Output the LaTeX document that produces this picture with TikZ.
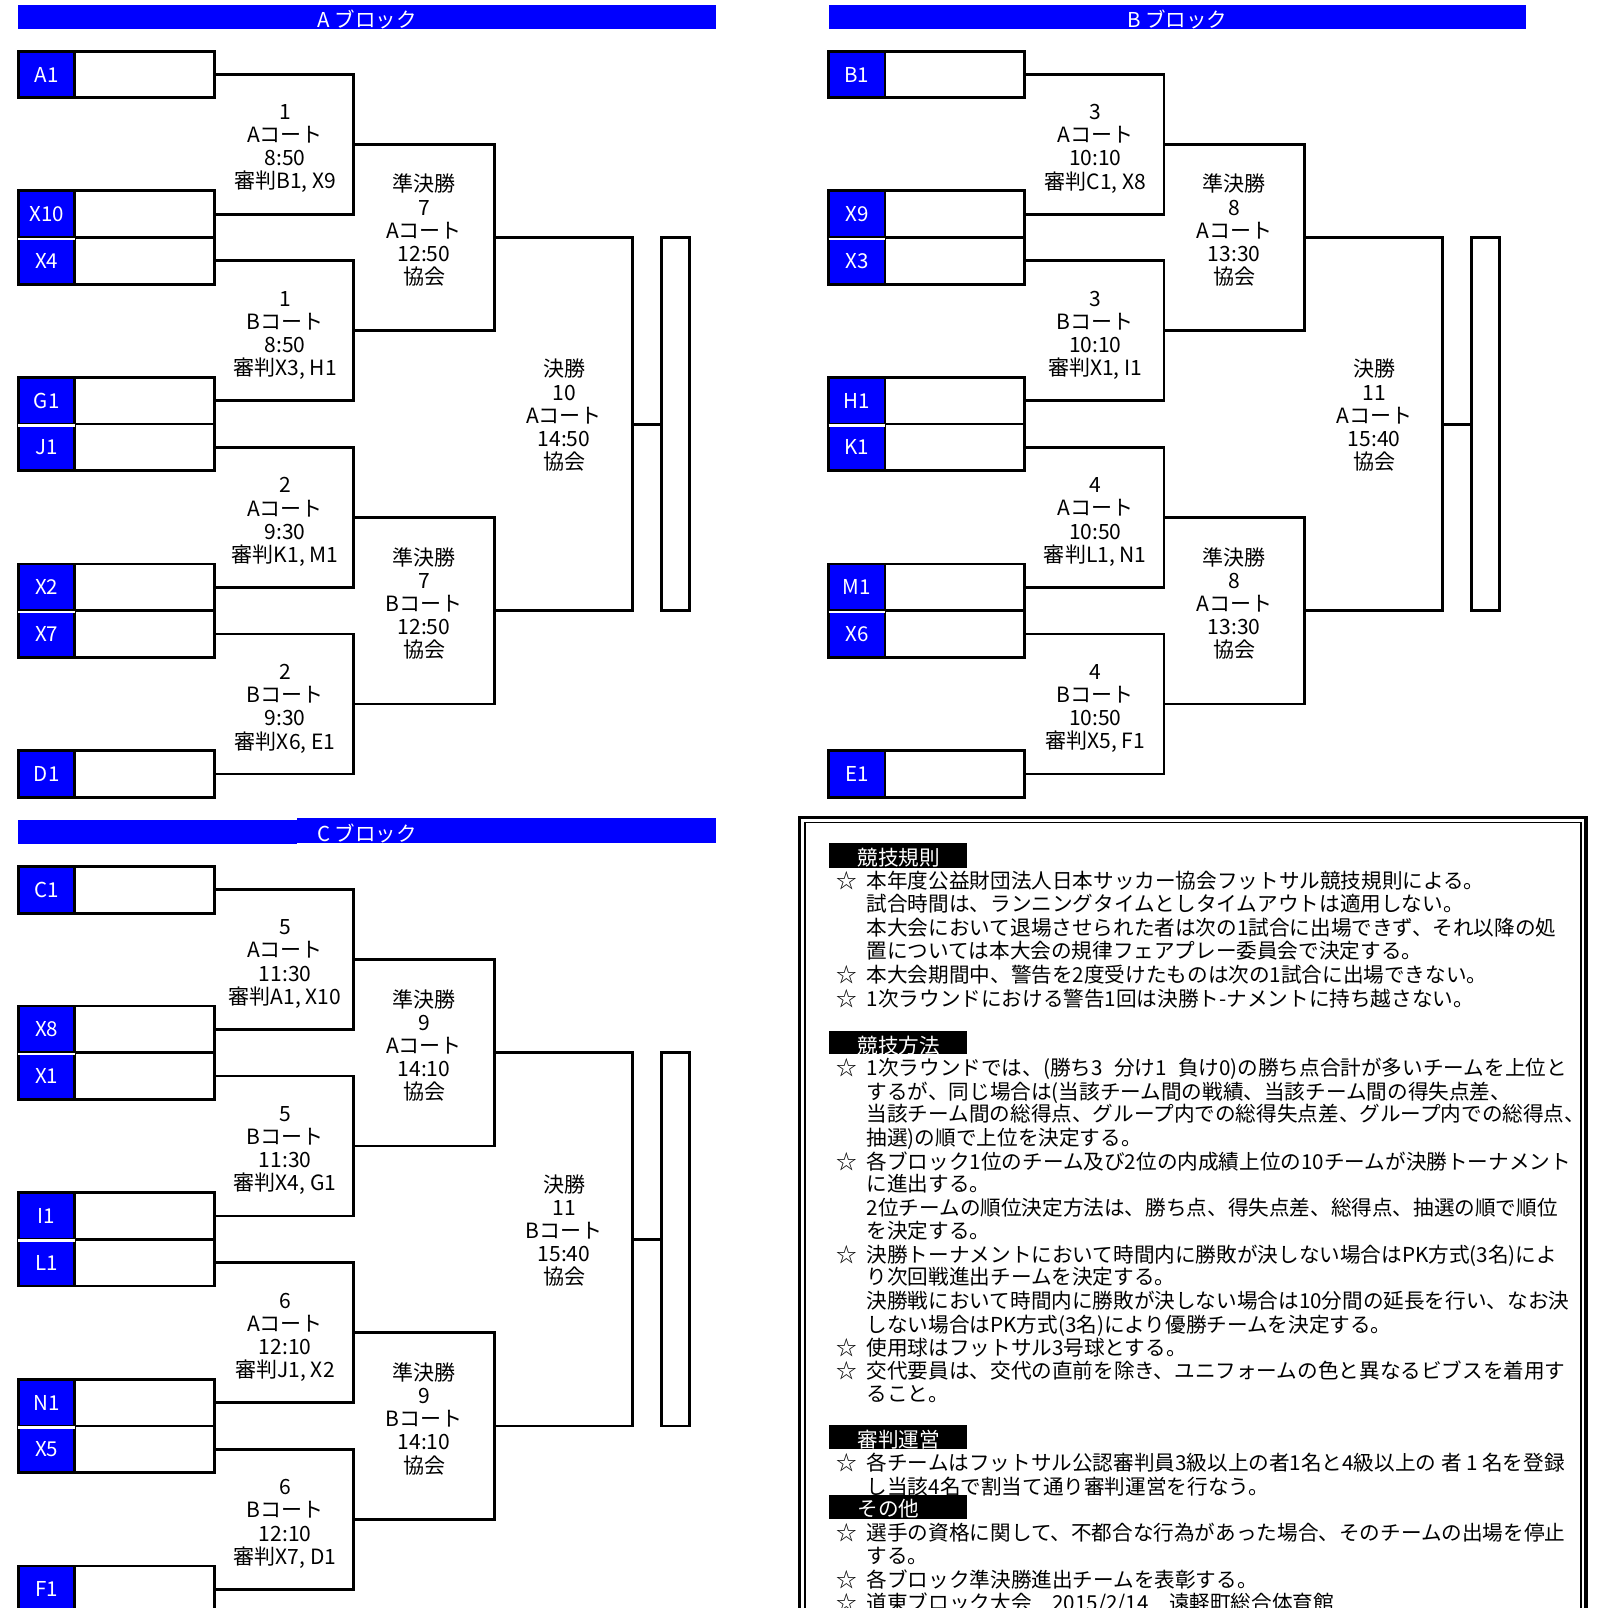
\documentclass[tikz,border=0pt]{standalone}
\usepackage{fontspec}
\setmainfont{Noto Sans CJK JP}

\definecolor{hdrblue}{RGB}{0,0,255}
\newcommand{\tagfont}{\fontsize{20}{22}\selectfont}
\newcommand{\gamefont}{\fontsize{20.5}{22.6}\selectfont}
\newcommand{\rulefont}{\fontsize{20.1}{23}\selectfont}
\newcommand{\starmark}{\makebox[30pt][l]{☆}}
\newcommand{\gap}{\hspace{0.55em}}

\tikzset{
  line/.style={line width=2.8pt},
  teambox/.style={draw, line width=2.8pt, fill=white, minimum width=191pt, minimum height=45.5pt, inner sep=0pt},
  teamtag/.style={draw, line width=2.8pt, fill=hdrblue, text=white, font=\tagfont, minimum width=55pt, minimum height=45.5pt, inner sep=0pt},
  winbox/.style={draw, line width=2.8pt, minimum width=27pt, minimum height=363.9pt, inner sep=0pt},
  gamelbl/.style={align=center, font=\gamefont, inner sep=0pt},
  hdrtext/.style={text=white, font=\tagfont, inner sep=0pt},
  sectext/.style={anchor=base west, text=white, font=\rulefont, inner sep=0pt},
  ruleline/.style={anchor=base west, font=\rulefont, inner sep=0pt},
}

% one block of the tournament: prefix, teams, 4 games, 2 semis, final
\newcommand{\drawblock}[9]{%
  \foreach \tm [count=\i] in {#2} {
    \pgfmathsetmacro\ty{{72.75,208.75,254.25,390.75,436.25,572.75,618.25,754.75}[\i-1]}
    \node[teambox] (#1t\i) at (113.5,\ty) {};
    \node[teamtag, anchor=west] (#1g\i) at (#1t\i.west) {\tm};
  }
  \foreach \j in {2,4,6}
    \draw[white, line width=2.6pt] ([xshift=1.4pt]#1g\j.south west) -- ([xshift=-1.4pt]#1g\j.south east);
  \coordinate (#1m1) at (345,140.75);
  \coordinate (#1m2) at (345,322.5);
  \coordinate (#1m3) at (345,504.5);
  \coordinate (#1m4) at (345,686.5);
  \coordinate (#1s1) at (482,231.6);
  \coordinate (#1s2) at (482,595.5);
  \coordinate (#1f) at (617,413.6);
  \node[winbox] (#1w) at (658.5,413.6) {};
  \draw[line] (#1t1.east) -| (#1m1) |- (#1t2.east);
  \draw[line] (#1t3.east) -| (#1m2) |- (#1t4.east);
  \draw[line] (#1t5.east) -| (#1m3) |- (#1t6.east);
  \draw[line] (#1t7.east) -| (#1m4) |- (#1t8.east);
  \draw[line] (#1m1) -| (#1s1) |- (#1m2);
  \draw[line] (#1m3) -| (#1s2) |- (#1m4);
  \draw[line] (#1s1) -| (#1f) |- (#1s2);
  \draw[line] (#1f) -- (#1w.west);
  \node[gamelbl] (#1l1) at (278,145) {#3};
  \node[gamelbl] (#1l2) at (278,327) {#4};
  \node[gamelbl] (#1l3) at (278,509) {#5};
  \node[gamelbl] (#1l4) at (278,691) {#6};
  \node[gamelbl] (#1l5) at (413.5,224.5) {#7};
  \node[gamelbl] (#1l6) at (413.5,588.5) {#8};
  \node[gamelbl] (#1l7) at (550,405) {#9};
}

\begin{document}
\begin{tikzpicture}[x=1pt,y=-1pt]
  \clip (0,0) rectangle (1563,1568);
  \fill[white] (0,0) rectangle (1563,1568);

  % A block
  \fill[hdrblue] (18,5) rectangle (698,28);
  \node[hdrtext] (hdra) at (358,19) {A ブロック};
  \drawblock{A}{A1,X10,X4,G1,J1,X2,X7,D1}%
    {1\\Aコート\\8:50\\審判B1, X9}{1\\Bコート\\8:50\\審判X3, H1}%
    {2\\Aコート\\9:30\\審判K1, M1}{2\\Bコート\\9:30\\審判X6, E1}%
    {準決勝\\7\\Aコート\\12:50\\協会}{準決勝\\7\\Bコート\\12:50\\協会}%
    {決勝\\10\\Aコート\\14:50\\協会}

  % B block
  \begin{scope}[shift={(790,0)}]
    \fill[hdrblue] (18,5) rectangle (698,28);
    \node[hdrtext] (hdrb) at (358,19) {B ブロック};
    \drawblock{B}{B1,X9,X3,H1,K1,M1,X6,E1}%
      {3\\Aコート\\10:10\\審判C1, X8}{3\\Bコート\\10:10\\審判X1, I1}%
      {4\\Aコート\\10:50\\審判L1, N1}{4\\Bコート\\10:50\\審判X5, F1}%
      {準決勝\\8\\Aコート\\13:30\\協会}{準決勝\\8\\Aコート\\13:30\\協会}%
      {決勝\\11\\Aコート\\15:40\\協会}
  \end{scope}

  % C block
  \begin{scope}[shift={(0,795)}]
    \fill[hdrblue] (18,5) rectangle (290,28);
    \fill[hdrblue] (290,3) rectangle (698,27);
    \node[hdrtext] (hdrc) at (358,18) {C ブロック};
    \drawblock{C}{C1,X8,X1,I1,L1,N1,X5,F1}%
      {5\\Aコート\\11:30\\審判A1, X10}{5\\Bコート\\11:30\\審判X4, G1}%
      {6\\Aコート\\12:10\\審判J1, X2}{6\\Bコート\\12:10\\審判X7, D1}%
      {準決勝\\9\\Aコート\\14:10\\協会}{準決勝\\9\\Bコート\\14:10\\協会}%
      {決勝\\11\\Bコート\\15:40\\協会}
  \end{scope}

  % rules
  \draw[line width=3pt] (780,797) rectangle (1546.5,1600);
  \draw[line width=1.3pt] (785,802) rectangle (1541.5,1600);

  \fill (808,822) rectangle (943,846);
  \node[sectext] (sec1) at (836,844) {競技規則};
  \node[ruleline] (r1) at (815,866) {\starmark 本年度公益財団法人日本サッカー協会フットサル競技規則による。};
  \node[ruleline] (r2) at (845,889) {試合時間は、ランニングタイムとしタイムアウトは適用しない。};
  \node[ruleline] (r3) at (845,912) {本大会において退場させられた者は次の1試合に出場できず、それ以降の処};
  \node[ruleline] (r4) at (845,935) {置については本大会の規律フェアプレー委員会で決定する。};
  \node[ruleline] (r5) at (815,958) {\starmark 本大会期間中、警告を2度受けたものは次の1試合に出場できない。};
  \node[ruleline] (r6) at (815,981) {\starmark 1次ラウンドにおける警告1回は決勝ト-ナメントに持ち越さない。};

  \fill (808,1005) rectangle (943,1028);
  \node[sectext] (sec2) at (836,1027) {競技方法};
  \node[ruleline] (r7) at (815,1049) {\starmark 1次ラウンドでは、(勝ち3\gap 分け1\gap 負け0)の勝ち点合計が多いチームを上位と};
  \node[ruleline] (r8) at (845,1072) {するが、同じ場合は(当該チーム間の戦績、当該チーム間の得失点差、};
  \node[ruleline] (r9) at (845,1094) {当該チーム間の総得点、グループ内での総得失点差、グループ内での総得点、};
  \node[ruleline] (r10) at (845,1117) {抽選)の順で上位を決定する。};
  \node[ruleline] (r11) at (815,1140) {\starmark 各ブロック1位のチーム及び2位の内成績上位の10チームが決勝トーナメント};
  \node[ruleline] (r12) at (845,1162) {に進出する。};
  \node[ruleline] (r13) at (845,1185) {2位チームの順位決定方法は、勝ち点、得失点差、総得点、抽選の順で順位};
  \node[ruleline] (r14) at (845,1208) {を決定する。};
  \node[ruleline] (r15) at (815,1231) {\starmark 決勝トーナメントにおいて時間内に勝敗が決しない場合はPK方式(3名)によ};
  \node[ruleline] (r16) at (845,1253) {り次回戦進出チームを決定する。};
  \node[ruleline] (r17) at (845,1276) {決勝戦において時間内に勝敗が決しない場合は10分間の延長を行い、なお決};
  \node[ruleline] (r18) at (845,1299) {しない場合はPK方式(3名)により優勝チームを決定する。};
  \node[ruleline] (r19) at (815,1322) {\starmark 使用球はフットサル3号球とする。};
  \node[ruleline] (r20) at (815,1344) {\starmark 交代要員は、交代の直前を除き、ユニフォームの色と異なるビブスを着用す};
  \node[ruleline] (r21) at (845,1367) {ること。};

  \fill (808,1390) rectangle (943,1413);
  \node[sectext] (sec3) at (836,1411) {審判運営};
  \node[ruleline] (r22) at (815,1434) {\starmark 各チームはフットサル公認審判員3級以上の者1名と4級以上の 者 1 名を登録};
  \node[ruleline] (r23) at (845,1457) {し当該4名で割当て通り審判運営を行なう。};

  \fill (808,1458) rectangle (943,1481);
  \node[sectext] (sec4) at (836,1479) {その他};
  \node[ruleline] (r24) at (815,1502) {\starmark 選手の資格に関して、不都合な行為があった場合、そのチームの出場を停止};
  \node[ruleline] (r25) at (845,1525) {する。};
  \node[ruleline] (r26) at (815,1548) {\starmark 各ブロック準決勝進出チームを表彰する。};
  \node[ruleline] (r27) at (815,1570) {\starmark 道東ブロック大会　2015/2/14　遠軽町総合体育館};
\end{tikzpicture}
\end{document}
